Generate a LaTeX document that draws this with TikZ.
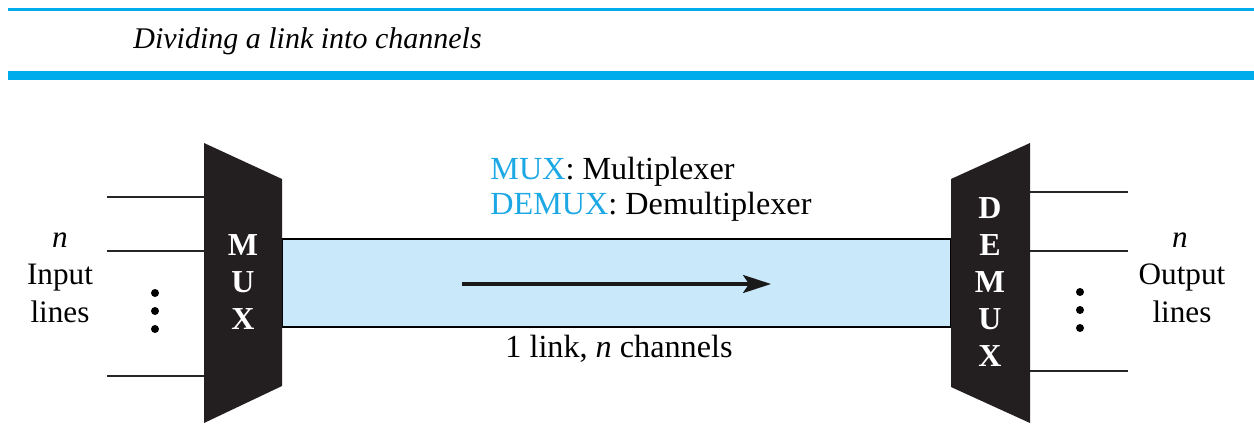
\documentclass[tikz,border=0pt]{standalone}
\usepackage{fontspec}
\setmainfont{Liberation Serif}
\usetikzlibrary{arrows.meta}

\definecolor{rulecyan}{RGB}{0,172,236}
\definecolor{labelcyan}{RGB}{28,168,228}
\definecolor{linkfill}{RGB}{201,233,250}
\definecolor{boxblack}{RGB}{35,31,32}

\begin{document}
\begin{tikzpicture}[x=0.5pt,y=-0.5pt,
  wire/.style={draw=black!85, line width=0.9pt},
  device/.style={fill=boxblack},
  devlabel/.style={text=white, inner sep=0pt, align=center,
    font=\fontsize{16}{18.5}\selectfont\bfseries},
  sidetext/.style={anchor=base, inner sep=0pt, font=\fontsize{15.6}{18.5}\selectfont},
  caption/.style={anchor=base west, inner sep=0pt, font=\fontsize{16.1}{18}\selectfont},
  dot/.style={circle, fill=black, inner sep=0pt, minimum size=4pt}]

\useasboundingbox (0,0) rectangle (1254,436);

% header rules and title
\draw[rulecyan, line width=1.5pt] (8,9) -- (1254,9);
\fill[rulecyan] (8,71) rectangle (1254,80);
\node[anchor=base west, inner sep=0pt, font=\fontsize{15}{18}\selectfont\itshape]
  (title) at (133,48) {Dividing a link into channels};

% the shared link
\draw[fill=linkfill, line width=0.8pt] (282,239) rectangle (951,327);

% multiplexer
\fill[device] (204,143) -- (282,179) -- (282,386) -- (204,423) -- cycle;
\node[devlabel] (mux) at (243,282) {M\\U\\X};

% demultiplexer
\fill[device] (951,179) -- (1030,143) -- (1030,423) -- (951,387) -- cycle;
\node[devlabel] (demux) at (990,282) {D\\E\\M\\U\\X};

% input lines
\coordinate (in1) at (107,197);  \coordinate (mi1) at (204,197);
\coordinate (in2) at (107,251);  \coordinate (mi2) at (204,251);
\coordinate (in3) at (107,376);  \coordinate (mi3) at (204,376);
\draw[wire] (in1) -- (mi1);
\draw[wire] (in2) -- (mi2);
\draw[wire] (in3) -- (mi3);
\node[dot] (ind1) at (155,293) {};
\node[dot] (ind2) at (155,311) {};
\node[dot] (ind3) at (155,329) {};

% output lines
\coordinate (do1) at (1030,192);  \coordinate (out1) at (1128,192);
\coordinate (do2) at (1030,251);  \coordinate (out2) at (1128,251);
\coordinate (do3) at (1030,371);  \coordinate (out3) at (1128,371);
\draw[wire] (do1) -- (out1);
\draw[wire] (do2) -- (out2);
\draw[wire] (do3) -- (out3);
\node[dot] (outd1) at (1080,292) {};
\node[dot] (outd2) at (1080,310) {};
\node[dot] (outd3) at (1080,328) {};

% side labels
\node[sidetext] (inN)  at (60,247) {\textit{n}};
\node[sidetext] (inT)  at (60,284) {Input};
\node[sidetext] (inL)  at (60,322) {lines};
\node[sidetext] (outN) at (1180,247) {\textit{n}};
\node[sidetext] (outT) at (1182,284) {Output};
\node[sidetext] (outL) at (1182,322) {lines};

% legend and link caption
\node[caption] (legmux)   at (490,179) {\textcolor{labelcyan}{MUX}: Multiplexer};
\node[caption] (legdemux) at (490,214) {\textcolor{labelcyan}{DEMUX}: Demultiplexer};
\node[caption] (linkcap)  at (505,357) {1 link, \textit{n} channels};

% direction of transmission
\coordinate (flowS) at (462,284);
\coordinate (flowE) at (771,284);
\draw[line width=1.6pt, -{Stealth[length=14pt, width=9pt, inset=3pt]}, draw=black!90] (flowS) -- (flowE);

\end{tikzpicture}
\end{document}
